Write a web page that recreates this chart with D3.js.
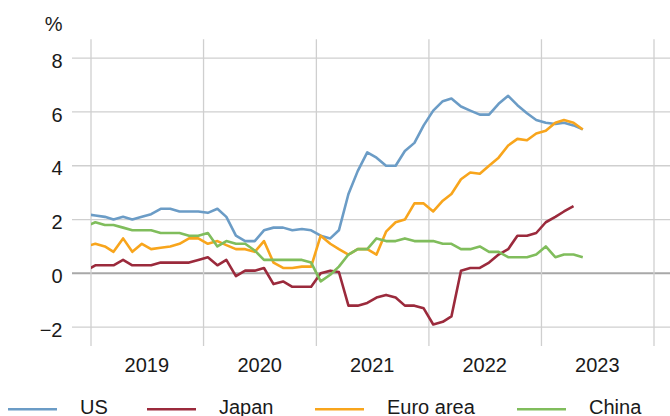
<!DOCTYPE html>
<html>
<head>
<meta charset="utf-8">
<script src="https://cdn.jsdelivr.net/npm/d3@7"></script>
<style>
  body { margin: 0; background: #fff; }
  svg text { font-family: "Liberation Sans", Arial, sans-serif; fill: #1a1a1a; }
</style>
</head>
<body>
<div id="chart"></div>
<script>
// monthly values, Dec 2018 to May 2023 (Japan to Apr 2023), year-on-year %
var firstMonth = new Date(2018, 11, 1);

var us = [2.2,
  2.15, 2.1, 2.0, 2.1, 2.0, 2.1, 2.2, 2.4, 2.4, 2.3, 2.3, 2.3,
  2.25, 2.4, 2.1, 1.4, 1.2, 1.2, 1.6, 1.7, 1.7, 1.6, 1.65, 1.6,
  1.4, 1.3, 1.6, 2.95, 3.8, 4.5, 4.3, 4.0, 4.0, 4.55, 4.85, 5.5,
  6.05, 6.4, 6.5, 6.2, 6.05, 5.9, 5.9, 6.3, 6.6, 6.25, 5.95, 5.7,
  5.6, 5.55, 5.6, 5.5, 5.35];

var japan = [0.1,
  0.3, 0.3, 0.3, 0.5, 0.3, 0.3, 0.3, 0.4, 0.4, 0.4, 0.4, 0.5,
  0.6, 0.3, 0.5, -0.1, 0.1, 0.1, 0.2, -0.4, -0.3, -0.5, -0.5, -0.5,
  0.0, 0.1, 0.05, -1.2, -1.2, -1.1, -0.9, -0.8, -0.9, -1.2, -1.2, -1.3,
  -1.9, -1.8, -1.6, 0.1, 0.2, 0.2, 0.4, 0.7, 0.9, 1.4, 1.4, 1.5,
  1.9, 2.1, 2.3, 2.5];

var euroArea = [1.0,
  1.1, 1.0, 0.8, 1.3, 0.8, 1.1, 0.9, 0.95, 1.0, 1.1, 1.3, 1.3,
  1.1, 1.2, 1.05, 0.9, 0.9, 0.8, 1.2, 0.4, 0.2, 0.2, 0.25, 0.25,
  1.4, 1.1, 0.9, 0.7, 0.9, 0.9, 0.7, 1.55, 1.9, 2.0, 2.6, 2.6,
  2.3, 2.7, 2.95, 3.5, 3.75, 3.7, 4.0, 4.3, 4.75, 5.0, 4.95, 5.2,
  5.3, 5.6, 5.7, 5.6, 5.35];

var china = [1.75,
  1.9, 1.8, 1.8, 1.7, 1.6, 1.6, 1.6, 1.5, 1.5, 1.5, 1.4, 1.4,
  1.5, 1.0, 1.2, 1.1, 1.1, 0.85, 0.5, 0.5, 0.5, 0.5, 0.5, 0.4,
  -0.3, -0.05, 0.25, 0.7, 0.9, 0.9, 1.3, 1.2, 1.2, 1.3, 1.2, 1.2,
  1.2, 1.1, 1.1, 0.9, 0.9, 1.0, 0.8, 0.8, 0.6, 0.6, 0.6, 0.7,
  1.0, 0.6, 0.7, 0.7, 0.6];

var seriesNames = ["US", "Japan", "Euro area", "China"];
var seriesColors = ["#6b9cc6", "#9b2a3c", "#f8a51c", "#80bd5c"];
var years = [2019, 2020, 2021, 2022, 2023];
var yTicks = [-2, 0, 2, 4, 6, 8];

var width = 670, height = 416;

var svg = d3.select("#chart").append("svg")
    .attr("width", width)
    .attr("height", height);

var x = d3.scaleTime()
    .domain([new Date(2019, 0, 1), new Date(2024, 0, 1)])
    .range([91, 654]);

var y = d3.scaleLinear()
    .domain([-2.7, 8.7])
    .range([346, 39.3]);

// horizontal grid
svg.append("g").selectAll("line")
    .data(yTicks)
  .enter().append("line")
    .attr("x1", 72)
    .attr("x2", width)
    .attr("y1", function(d) { return y(d); })
    .attr("y2", function(d) { return y(d); })
    .attr("stroke", function(d) { return d === 0 ? "#a8a8a8" : "#cfcfcf"; })
    .attr("stroke-width", function(d) { return d === 0 ? 2 : 1.3; });

// vertical grid at year boundaries
var yearStarts = years.concat([2024]).map(function(yr) { return new Date(yr, 0, 1); });
svg.append("g").selectAll("line")
    .data(yearStarts)
  .enter().append("line")
    .attr("x1", function(d) { return x(d); })
    .attr("x2", function(d) { return x(d); })
    .attr("y1", 39.3)
    .attr("y2", 346)
    .attr("stroke", "#cfcfcf")
    .attr("stroke-width", 1.3);

// y labels
svg.append("g").selectAll("text")
    .data(yTicks)
  .enter().append("text")
    .attr("x", 62.5)
    .attr("y", function(d) { return y(d) + 9.7; })
    .attr("text-anchor", "end")
    .style("font-size", "20px")
    .text(function(d) { return d < 0 ? "\u2212" + Math.abs(d) : d; });

svg.append("text")
    .attr("x", 62.5)
    .attr("y", 30.5)
    .attr("text-anchor", "end")
    .style("font-size", "20px")
    .text("%");

// year labels in the middle of each year
svg.append("g").selectAll("text")
    .data(years)
  .enter().append("text")
    .attr("x", function(d) { return x(new Date(d, 6, 1)); })
    .attr("y", 371.7)
    .attr("text-anchor", "middle")
    .style("font-size", "20px")
    .text(function(d) { return d; });

// lines, clipped at the start of 2019
svg.append("clipPath").attr("id", "plotclip")
  .append("rect")
    .attr("x", x(new Date(2019, 0, 1)))
    .attr("y", 0)
    .attr("width", width)
    .attr("height", 350);

var line = d3.line()
    .x(function(d, i) { return x(d3.timeDay.offset(d3.timeMonth.offset(firstMonth, i), 14)); })
    .y(function(d) { return y(d); });

var allSeries = [us, japan, euroArea, china];

svg.append("g")
    .attr("clip-path", "url(#plotclip)")
  .selectAll("path")
    .data(allSeries)
  .enter().append("path")
    .attr("d", line)
    .attr("fill", "none")
    .attr("stroke", function(d, i) { return seriesColors[i]; })
    .attr("stroke-width", 2.6)
    .attr("stroke-linejoin", "round");

// legend
var legendX = [8, 147, 315, 517];
var legend = svg.append("g").selectAll("g")
    .data(seriesNames)
  .enter().append("g")
    .attr("transform", function(d, i) { return "translate(" + legendX[i] + ",409.3)"; });

legend.append("line")
    .attr("x1", 0)
    .attr("x2", 49)
    .attr("stroke", function(d, i) { return seriesColors[i]; })
    .attr("stroke-width", 2.6);

legend.append("text")
    .attr("x", 72)
    .attr("y", 5)
    .style("font-size", "20px")
    .text(function(d) { return d; });
</script>
</body>
</html>
